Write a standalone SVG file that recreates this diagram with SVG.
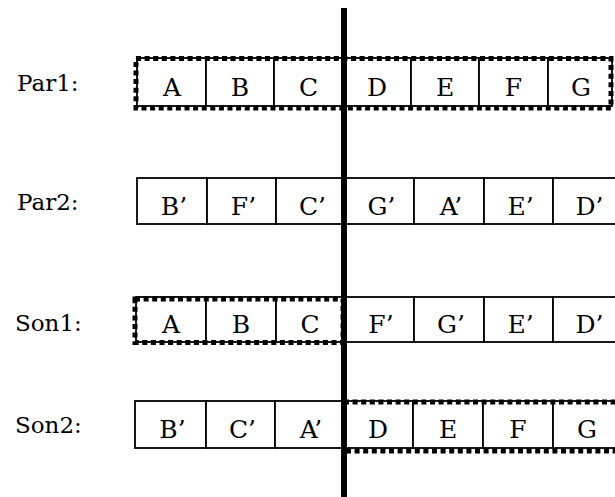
<svg xmlns="http://www.w3.org/2000/svg" width="615" height="497" viewBox="0 0 615 497">
<style>
.lbl{font-family:"DejaVu Serif","Liberation Serif",serif;font-size:23px;fill:#000}
.t{font-family:"DejaVu Serif","Liberation Serif",serif;font-size:25px;fill:#000;text-anchor:middle}
.c{fill:#fff;stroke:#000;stroke-width:1.8}
.d{fill:none;stroke:#000;stroke-width:5;stroke-dasharray:5 3.6}
</style>
<rect width="615" height="497" fill="#fff"/>
<g id="par1">
<text class="lbl" x="17" y="91">Par1:</text>
<rect class="c" x="137" y="58" width="69" height="48"/>
<rect class="c" x="206" y="58" width="68" height="48"/>
<rect class="c" x="274" y="58" width="69" height="48"/>
<rect class="c" x="343" y="58" width="68" height="48"/>
<rect class="c" x="411" y="58" width="68" height="48"/>
<rect class="c" x="479" y="58" width="69" height="48"/>
<rect class="c" x="548" y="58" width="64" height="48"/>
<text class="t" x="172" y="96">A</text>
<text class="t" x="240" y="96">B</text>
<text class="t" x="308.5" y="96">C</text>
<text class="t" x="377" y="96">D</text>
<text class="t" x="445" y="96">E</text>
<text class="t" x="513.5" y="96">F</text>
<text class="t" x="581" y="96">G</text>
<rect class="d" x="136" y="58.5" width="475" height="49.5"/>
</g>
<g id="par2">
<text class="lbl" x="17" y="210">Par2:</text>
<rect class="c" x="137" y="178" width="70" height="46"/>
<rect class="c" x="207" y="178" width="69" height="46"/>
<rect class="c" x="276" y="178" width="69" height="46"/>
<rect class="c" x="345" y="178" width="69" height="46"/>
<rect class="c" x="414" y="178" width="70" height="46"/>
<rect class="c" x="484" y="178" width="69" height="46"/>
<rect class="c" x="553" y="178" width="69" height="46"/>
<text class="t" x="174" y="215">B’</text>
<text class="t" x="243.5" y="215">F’</text>
<text class="t" x="312.5" y="215">C’</text>
<text class="t" x="381.5" y="215">G’</text>
<text class="t" x="451" y="215">A’</text>
<text class="t" x="520.5" y="215">E’</text>
<text class="t" x="589.5" y="215">D’</text>
</g>
<g id="son1">
<text class="lbl" x="15" y="331">Son1:</text>
<rect class="c" x="136" y="297" width="70" height="45"/>
<rect class="c" x="206" y="297" width="70" height="45"/>
<rect class="c" x="276" y="297" width="68" height="45"/>
<rect class="c" x="344" y="297" width="70" height="45"/>
<rect class="c" x="414" y="297" width="70" height="45"/>
<rect class="c" x="484" y="297" width="69" height="45"/>
<rect class="c" x="553" y="297" width="69" height="45"/>
<text class="t" x="171" y="333">A</text>
<text class="t" x="241" y="333">B</text>
<text class="t" x="310" y="333">C</text>
<text class="t" x="381" y="333">F’</text>
<text class="t" x="451" y="333">G’</text>
<text class="t" x="520.5" y="333">E’</text>
<text class="t" x="589.5" y="333">D’</text>
<rect class="d" x="135" y="299" width="208" height="43.5"/>
</g>
<g id="son2">
<text class="lbl" x="15" y="433">Son2:</text>
<rect class="c" x="135" y="401" width="71" height="47"/>
<rect class="c" x="206" y="401" width="69" height="47"/>
<rect class="c" x="275" y="401" width="68" height="47"/>
<rect class="c" x="343" y="401" width="70" height="47"/>
<rect class="c" x="413" y="401" width="70" height="47"/>
<rect class="c" x="483" y="401" width="70" height="47"/>
<rect class="c" x="553" y="401" width="69" height="47"/>
<text class="t" x="172.5" y="438">B’</text>
<text class="t" x="242.5" y="438">C’</text>
<text class="t" x="311" y="438">A’</text>
<text class="t" x="378" y="438">D</text>
<text class="t" x="448" y="438">E</text>
<text class="t" x="518" y="438">F</text>
<text class="t" x="587" y="438">G</text>
<rect class="d" x="344" y="402" width="280" height="49"/>
</g>
<g id="connectors">
<line x1="344" y1="8" x2="344" y2="497" stroke="#000" stroke-width="6"/>
</g>
</svg>
